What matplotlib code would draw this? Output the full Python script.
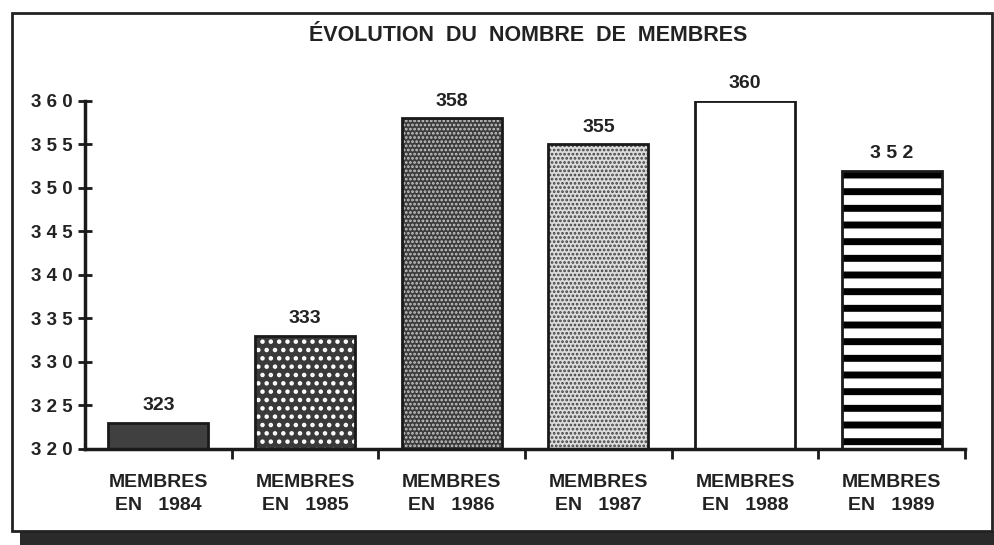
import matplotlib.pyplot as plt
from matplotlib.patches import Rectangle
import numpy as np

plt.rcParams['font.family'] = ['Liberation Sans', 'DejaVu Sans']
plt.rcParams['font.weight'] = 'bold'

categories = ['MEMBRES\nEN   1984', 'MEMBRES\nEN   1985', 'MEMBRES\nEN   1986',
              'MEMBRES\nEN   1987', 'MEMBRES\nEN   1988', 'MEMBRES\nEN   1989']
members = [323, 333, 358, 355, 360, 352]
y_ticks = [320, 325, 330, 335, 340, 345, 350, 355, 360]

# fill colour, hatch colour, hatch pattern, hatch width for each year
faces = ['#404040', '#3a3a3a', '#3c3c3c', '#dcdcdc', 'white', 'white']
hatch_colors = ['#404040', 'white', '#c8c8c8', '#404040', 'white', 'black']
hatches = [None, '..', '....', '....', None, '-']
hatch_widths = [1.0, 2.0, 1.3, 1.3, 1.0, 5.0]

W, H = 995, 545
fig = plt.figure(figsize=(W / 100, H / 100), dpi=100)

# frame with drop shadow
fig.patches.append(Rectangle((20 / W, 0), 975 / W, 14 / H, transform=fig.transFigure,
                             facecolor='#2a2a2a', edgecolor='none', zorder=0))
fig.patches.append(Rectangle((12 / W, 14 / H), 980 / W, 518 / H, transform=fig.transFigure,
                             facecolor='white', edgecolor='#222222', linewidth=2, zorder=1))

ax = fig.add_axes([85 / W, 1 - 449 / H, 880 / W, 348 / H])
ax.set_zorder(2)
ax.patch.set_alpha(0)

x = np.arange(len(members))
for i in range(len(members)):
    bars = ax.bar(x[i], members[i], width=0.68, color=faces[i], edgecolor=hatch_colors[i],
                  hatch=hatches[i], linewidth=0, zorder=2)
    for b in bars:
        if hasattr(b, 'set_hatch_linewidth'):
            b.set_hatch_linewidth(hatch_widths[i])
ax.bar(x, members, width=0.68, fill=False, edgecolor='#1a1a1a', linewidth=2, zorder=3)

# value labels above the bars
for i, v in enumerate(members):
    txt = ' '.join(str(v)) if i == len(members) - 1 else str(v)
    ax.text(x[i], v + 1.0, txt, ha='center', va='bottom', fontsize=14,
            color='#222222', clip_on=False)

ax.set_xlim(-0.5, len(members) - 0.5)
ax.set_ylim(320, 360)

for side in ['top', 'right']:
    ax.spines[side].set_visible(False)
for side in ['left', 'bottom']:
    ax.spines[side].set_linewidth(2.5)
    ax.spines[side].set_color('#1a1a1a')

ax.set_yticks(y_ticks)
ax.set_yticklabels([' '.join(str(t)) for t in y_ticks], fontsize=13.5, color='#222222')
ax.tick_params(axis='y', direction='inout', length=10, width=2, pad=4, color='#1a1a1a')

# category boundary ticks, labels centred under each bar
ax.set_xticks(x + 0.5)
ax.set_xticklabels([])
ax.tick_params(axis='x', direction='out', length=7, width=2, color='#1a1a1a')
ax.set_xticks(x, minor=True)
ax.set_xticklabels(categories, minor=True, fontsize=14, color='#222222', linespacing=1.45)
ax.tick_params(axis='x', which='minor', length=0, pad=18)

fig.text(528 / W, 1 - 35 / H, 'ÉVOLUTION  DU  NOMBRE  DE  MEMBRES', ha='center', va='center',
         fontsize=15.5, color='#222222')

fig.savefig('out.png', dpi=100)
